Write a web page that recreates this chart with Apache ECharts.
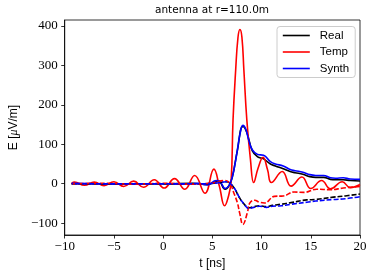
<!DOCTYPE html>
<html>
<head>
<meta charset="utf-8">
<script src="https://cdn.jsdelivr.net/npm/echarts@6/dist/echarts.min.js"></script>
<style>html,body{margin:0;padding:0;background:#fff;}#c{width:374px;height:275px;}</style>
</head>
<body>
<div id="c"></div>
<script>
// ---- data ----
const titleText = 'antenna at r=110.0m';
const legendNames = ['Real', 'Temp', 'Synth'];
const xTicks = [-10, -5, 0, 5, 10, 15, 20];
const yTicks = [-100, 0, 100, 200, 300, 400];

// Real (solid)
const tRealSolid = [-9.3, -6, -3, 0, 3, 4.5, 5.6, 6.3, 6.7, 7.04, 7.54, 8.1, 8.5, 9.05, 9.6, 10.2, 10.9, 11.4, 12.2, 12.9, 13.4, 14.2, 14.9, 15.5, 16.3, 17.0, 17.5, 18.3, 19.0, 20.0];
const eRealSolid = [0, 0, 0, 0, 1, -2, 7, -14, -5, 18, 84, 145, 130, 84, 68, 63, 50, 45, 38, 31, 28, 24, 18, 16, 16, 11, 10, 10, 8, 7];
// Temp (solid)
const tTempSolid = [-9.3, -9.0, -8.0, -7.0, -6.0, -5.0, -4.0, -3.0, -2.0, -0.9, 0.1, 1.15, 2.2, 3.2, 4.25, 5.15, 5.7, 6.25, 6.6, 6.9, 7.1, 7.37, 7.6, 7.8, 8.0, 8.2, 8.5, 8.87, 9.2, 9.65, 10.15, 10.6, 11.0, 12.1, 13.0, 14.1, 15.0, 16.1, 17.0, 18.2, 19.0, 20.0];
const eTempSolid = [1, 4, -4, 4, -5, 5, -7, 6.5, -9, 10, -11, 13, -14, 21, -24, 37, -5, -56, -35, 5, 162, 289, 370, 391, 372, 289, 162, 61, 3, 40, 67, 36, 3, 31, -6, 17, -12, 8, -13, 5, -10, -2];
// Synth (solid)
const tSynthSolid = [-9.3, -7, -4, 0, 2, 3.5, 4.5, 5.4, 5.8, 6.3, 6.7, 7.04, 7.3, 7.54, 7.8, 8.1, 8.4, 8.7, 9.05, 9.6, 10.2, 10.9, 11.4, 12.2, 12.9, 13.4, 14.2, 14.9, 15.5, 16.3, 17.0, 17.5, 18.3, 19.0, 20.0];
const eSynthSolid = [1, 0, -1, 0, -1, 1, -3, 8, 5, -12, -4, 19, 50, 86, 125, 148, 138, 110, 86, 74, 72, 56, 50, 45, 36, 33, 29, 23, 21, 21, 15, 14, 15, 12, 11];

// Real (dashed)
const tRealDash = [-9.3, -4, 0, 4, 5.5, 6.4, 7.1, 7.77, 8.27, 8.7, 9.2, 9.8, 10.5, 11.1, 12.0, 13.0, 14.6, 15.5, 17.3, 18.5, 20.0];
const eRealDash = [0, 0, 0, 0, 2, 5, -7, -36, -53, -61, -58, -56, -58, -55, -52, -48, -41, -40, -34, -31, -26];
// Temp (dashed)
const tTempDash = [-9.3, -6, -3, 0, 3, 5.0, 6.3, 6.8, 7.2, 7.55, 7.77, 8.1, 8.55, 8.8, 9.3, 9.8, 10.3, 11.3, 12.2, 13.3, 14.3, 15.6, 17.0, 18.3, 20.0];
const eTempDash = [0, 1, -1, 1, -1, 2, 8, 0, -25, -49, -74, -103, -74, -49, -42, -47, -49, -32, -31, -21, -22, -14, -15, -11, -7];
// Synth (dashed)
const tSynthDash = [-9.3, -4, 0, 4, 5.5, 6.4, 7.1, 7.77, 8.27, 8.7, 9.2, 9.8, 10.5, 11.1, 12.0, 13.0, 14.6, 15.5, 17.3, 18.5, 20.0];
const eSynthDash = [0, 0, 0, 0, 2, 5, -7, -36, -53, -63, -60, -57, -60, -57, -56, -52, -47, -44, -40, -38, -33];

const colors = {Real: '#000000', Temp: '#ff0000', Synth: '#0000ff'};

function pairs(t, e) { return t.map((v, i) => [v, e[i]]); }
function mk(name, color, t, e, dashed, offset) {
  return {
    name: name, type: 'line', data: pairs(t, e), symbol: 'none', smooth: 0.45,
    silent: true, animation: false,
    lineStyle: {color: color, width: 1.6, type: dashed ? [5, 2] : 'solid', dashOffset: offset || 0},
    itemStyle: {color: color}
  };
}

const chart = echarts.init(document.getElementById('c'), null, {renderer: 'canvas'});
const fmt = v => (v < 0 ? '\u2212' + Math.abs(v) : String(v));
chart.setOption({
  backgroundColor: '#fff',
  animation: false,
  title: {
    text: titleText, left: 155, top: 5, padding: 0,
    textStyle: {fontFamily: 'DejaVu Sans', fontSize: 10.5, fontWeight: 'normal', color: '#000'}
  },
  grid: {left: 61, right: 14, top: 20, bottom: 40, show: true, borderColor: '#000', borderWidth: 0.8, backgroundColor: 'transparent'},
  legend: {
    data: legendNames, orient: 'vertical', left: 277, top: 26.5,
    padding: [3, 6, 3, 5], itemGap: 4.5, itemWidth: 27, itemHeight: 14,
    borderColor: '#cccccc', borderWidth: 1, borderRadius: 3, backgroundColor: 'rgba(255,255,255,0.8)',
    textStyle: {fontFamily: 'Liberation Sans', fontSize: 11.5, color: '#000', padding: [0, 0, 0, 5]},
    itemStyle: {opacity: 0}, lineStyle: {width: 1.6, type: 'solid'},
    selectedMode: false
  },
  xAxis: {
    type: 'value', min: -10, max: 20, interval: 5,
    name: 't [ns]', nameLocation: 'middle', nameGap: 21,
    nameTextStyle: {fontFamily: 'Liberation Sans', fontSize: 12, color: '#000'},
    axisLine: {show: true, onZero: false, lineStyle: {color: '#000', width: 0.8}},
    axisTick: {show: true, inside: false, length: 3.5, lineStyle: {color: '#000', width: 0.8}},
    axisLabel: {fontFamily: '"Liberation Serif", serif', fontSize: 13, color: '#000', margin: 5, formatter: fmt, customValues: xTicks},
    splitLine: {show: false}
  },
  yAxis: {
    type: 'value', min: -130, max: 415,
    name: 'E [{i|\u03bc}V/m]', nameLocation: 'middle', nameGap: 42, nameRotate: 90,
    nameTextStyle: {fontFamily: 'Liberation Sans', fontSize: 12, color: '#000',
      rich: {i: {fontFamily: '"Liberation Serif", serif', fontStyle: 'italic', fontSize: 12, color: '#000'}}},
    axisLine: {show: true, onZero: false, lineStyle: {color: '#000', width: 0.8}},
    axisTick: {show: true, inside: false, length: 3.5, customValues: yTicks, lineStyle: {color: '#000', width: 0.8}},
    axisLabel: {fontFamily: '"Liberation Serif", serif', fontSize: 13, color: '#000', margin: 7, formatter: fmt, customValues: yTicks},
    splitLine: {show: false}
  },
  series: [
    mk('Real', colors.Real, tRealSolid, eRealSolid, false),
    mk('Temp', colors.Temp, tTempSolid, eTempSolid, false),
    mk('Synth', colors.Synth, tSynthSolid, eSynthSolid, false),
    mk('Real y', colors.Real, tRealDash, eRealDash, true, 0),
    mk('Temp y', colors.Temp, tTempDash, eTempDash, true, 0),
    mk('Synth y', colors.Synth, tSynthDash, eSynthDash, true, 3.5)
  ]
});
</script>
</body>
</html>
